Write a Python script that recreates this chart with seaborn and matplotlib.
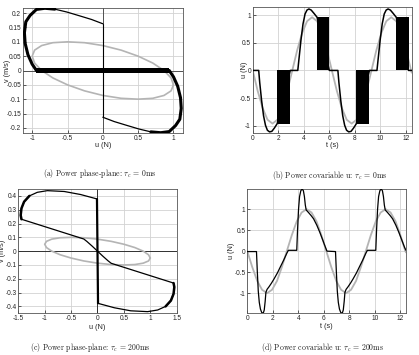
import matplotlib
matplotlib.use("Agg")
import matplotlib.pyplot as plt
import seaborn as sns

# ---------------- data ----------------
# reference ellipse (grey) used in the phase planes
ref_u = [1, 0.966, 0.866, 0.707, 0.5, 0.259, 0, -0.259, -0.5, -0.707, -0.866, -0.966, -1,
         -0.966, -0.866, -0.707, -0.5, -0.259, 0, 0.259, 0.5, 0.707, 0.866, 0.966, 1]
ref_v = [-0.05, -0.026, 0, 0.026, 0.05, 0.071, 0.087, 0.097, 0.1, 0.097, 0.087, 0.071, 0.05,
         0.026, 0, -0.026, -0.05, -0.071, -0.087, -0.097, -0.1, -0.097, -0.087, -0.071, -0.05]

# (a) phase plane, tau_c = 0 ms
a_arc1_u = [0, -0.16, -0.32, -0.51, -0.68]
a_arc1_v = [0.163, 0.178, 0.190, 0.204, 0.214]
a_edge1_u = [-0.68, -0.82, -0.94, -1.03, -1.09, -1.11, -1.10, -1.06, -1.00, -0.94]
a_edge1_v = [0.214, 0.217, 0.213, 0.192, 0.170, 0.132, 0.095, 0.055, 0.022, 0.0]
a_arc2_u = [0, 0.16, 0.32, 0.51, 0.68]
a_arc2_v = [-0.163, -0.178, -0.190, -0.204, -0.214]
a_edge2_u = [0.68, 0.82, 0.94, 1.03, 1.09, 1.11, 1.10, 1.06, 1.00, 0.94]
a_edge2_v = [-0.214, -0.217, -0.213, -0.192, -0.170, -0.132, -0.095, -0.055, -0.022, 0.0]
a_band_u = [-0.94, 0.94]
a_band_lo = [-0.009, -0.009]
a_band_hi = [0.010, 0.010]
a_switch_u = [0, 0]
a_switch_v = [0.163, -0.163]

# (b) u(t), tau_c = 0 ms
b_t = [0, 0.47, 0.55, 0.70, 0.85, 1.00, 1.15, 1.32, 1.50, 1.70, 1.92, 2.94, 3.53, 3.62, 3.78,
       3.94, 4.10, 4.25, 4.40, 4.58, 4.80, 5.04, 6.00, 6.67, 6.75, 6.90, 7.05, 7.20, 7.35, 7.52,
       7.70, 7.90, 8.12, 9.14, 9.73, 9.82, 9.98, 10.14, 10.30, 10.45, 10.60, 10.78, 11.00,
       11.24, 12.20, 12.45]
b_u = [0, 0, -0.22, -0.55, -0.82, -0.99, -1.08, -1.11, -1.10, -1.04, -0.96, 0, 0, 0.20, 0.55,
       0.84, 1.02, 1.09, 1.11, 1.09, 1.03, 0.96, 0, 0, -0.22, -0.55, -0.82, -0.99, -1.08, -1.11,
       -1.10, -1.04, -0.96, 0, 0, 0.20, 0.55, 0.84, 1.02, 1.09, 1.11, 1.09, 1.03,
       0.96, 0, 0]
b_block_start = [1.92, 5.04, 8.12, 11.24]
b_block_end = [2.94, 6.00, 9.14, 12.20]
b_block_level = [-0.96, 0.96, -0.96, 0.96]
b_ref_t = [0, 0.39, 0.78, 1.16, 1.55, 1.94, 2.33, 2.71, 3.10, 3.49, 3.88, 4.26, 4.65, 5.04,
           5.43, 5.81, 6.20, 6.59, 6.98, 7.36, 7.75, 8.14, 8.53, 8.91, 9.30, 9.69, 10.08,
           10.46, 10.85, 11.24, 11.63, 12.01, 12.40, 12.45]
b_ref_u = [0, -0.37, -0.68, -0.89, -0.96, -0.89, -0.68, -0.37, 0, 0.37, 0.68, 0.89, 0.96, 0.89,
           0.68, 0.37, 0, -0.37, -0.68, -0.89, -0.96, -0.89, -0.68, -0.37, 0, 0.37, 0.68,
           0.89, 0.96, 0.89, 0.68, 0.37, 0, -0.04]

# (c) phase plane, tau_c = 200 ms
c_up_u = [0, -0.32, -0.63, -0.95, -1.14, -1.29, -1.39, -1.44, -1.455, -1.44, -0.26, -0.20, -0.10, 0]
c_up_v = [0.377, 0.41, 0.432, 0.438, 0.426, 0.40, 0.358, 0.31, 0.26, 0.231, 0.088, 0.07, 0.036, 0]
c_dn_u = [0, 0.32, 0.63, 0.95, 1.14, 1.29, 1.39, 1.44, 1.455, 1.44, 0.26, 0.20, 0.10, 0]
c_dn_v = [-0.377, -0.41, -0.432, -0.438, -0.426, -0.40, -0.358, -0.31, -0.26, -0.231, -0.088,
          -0.07, -0.036, 0]
c_edge1_u = [-1.29, -1.39, -1.44, -1.455, -1.44]
c_edge1_v = [0.40, 0.358, 0.31, 0.26, 0.231]
c_edge2_u = [1.29, 1.39, 1.44, 1.455, 1.44]
c_edge2_v = [-0.40, -0.358, -0.31, -0.26, -0.231]
c_switch_u = [-0.01, 0.01]
c_switch_v = [0.377, -0.377]

# (d) u(t), tau_c = 200 ms
d_t = [0, 0.72, 0.78, 0.86, 0.94, 1.03, 1.13, 1.25, 1.33, 1.40, 1.46, 1.55, 1.70, 1.90, 2.10,
       2.36, 2.60, 2.86, 3.10, 3.22, 3.88, 3.94, 4.02, 4.10, 4.20, 4.30, 4.40, 4.48, 4.55, 4.62,
       4.80, 5.00, 5.20, 5.45, 5.70, 5.95, 6.12, 6.25, 6.92, 6.98, 7.06, 7.14, 7.23, 7.33, 7.45,
       7.53, 7.60, 7.66, 7.75, 7.90, 8.10, 8.30, 8.56, 8.80, 9.06, 9.30, 9.42, 10.08, 10.14,
       10.22, 10.30, 10.40, 10.50, 10.60, 10.68, 10.75, 10.82, 11.00, 11.20, 11.40, 11.65,
       11.90, 12.15, 12.35, 12.45]
d_u = [-0.01, -0.01, -0.45, -0.95, -1.22, -1.38, -1.46, -1.48, -1.40, -1.20, -0.98, -0.91,
       -0.85, -0.76, -0.66, -0.52, -0.37, -0.21, -0.05, 0.02, 0.02, 0.50, 1.00, 1.30, 1.44,
       1.48, 1.44, 1.30, 1.10, 0.98, 0.92, 0.85, 0.77, 0.62, 0.44, 0.24, 0.10, 0.0, -0.01,
       -0.45, -0.95, -1.22, -1.38, -1.46, -1.48, -1.40, -1.20, -0.98, -0.91, -0.85, -0.76,
       -0.66, -0.52, -0.37, -0.21, -0.05, 0.02, 0.02, 0.50, 1.00, 1.30, 1.44, 1.48, 1.44,
       1.30, 1.10, 0.98, 0.92, 0.85, 0.77, 0.62, 0.44, 0.24, 0.08, 0.02]
d_ref_t = b_ref_t
d_ref_u = [0, -0.38, -0.71, -0.92, -1.0, -0.92, -0.71, -0.38, 0, 0.38, 0.71, 0.92, 1.0, 0.92,
           0.71, 0.38, 0, -0.38, -0.71, -0.92, -1.0, -0.92, -0.71, -0.38, 0, 0.38, 0.71,
           0.92, 1.0, 0.92, 0.71, 0.38, 0, -0.03]

captions = ["(a) Power phase-plane: $\\tau_c$ = 0ms",
            "(b) Power covariable u: $\\tau_c$ = 0ms",
            "(c) Power phase-plane: $\\tau_c$ = 200ms",
            "(d) Power covariable u: $\\tau_c$ = 200ms"]

# ---------------- drawing ----------------
sns.set_style("whitegrid")
plt.rcParams["font.family"] = ["Liberation Sans", "DejaVu Sans"]
plt.rcParams["mathtext.fontset"] = "cm"

W, H = 419, 355
fig = plt.figure(figsize=(W / 100, H / 100), dpi=100)


def box(l, r, t, b):
    return [l / W, 1 - b / H, (r - l) / W, (b - t) / H]


axA = fig.add_axes(box(23, 183, 8, 133))
axB = fig.add_axes(box(252.7, 411.7, 7.3, 133))
axC = fig.add_axes(box(18.3, 176.7, 189, 313.3))
axD = fig.add_axes(box(247.3, 406, 189, 313.3))

GREY = "#b4b4b4"
BLK = "black"


def line(ax, x, y, color=BLK, lw=0.8, z=3):
    sns.lineplot(x=x, y=y, ax=ax, color=color, linewidth=lw, sort=False,
                 estimator=None, legend=False, zorder=z)


def style(ax, xlim, ylim, xt, xtl, yt, ytl, xlabel, ylabel, xlc, ylc):
    ax.set_xlim(*xlim)
    ax.set_ylim(*ylim)
    ax.set_xticks(xt)
    ax.set_xticklabels(xtl)
    ax.set_yticks(yt)
    ax.set_yticklabels(ytl)
    ax.set_facecolor("white")
    ax.grid(True, color="#d2d2d2", linewidth=0.6)
    ax.set_axisbelow(True)
    for s in ax.spines.values():
        s.set_visible(True)
        s.set_color("#555555")
        s.set_linewidth(0.6)
    ax.tick_params(direction="in", length=2, width=0.5, labelsize=4.7, pad=1.3,
                   colors="#222222", left=True, bottom=True)
    ax.set_xlabel(xlabel, fontsize=5.2, color="#222222")
    ax.set_ylabel(ylabel, fontsize=5.2, color="#222222")
    ax.xaxis.label.set_va("center")
    ax.yaxis.label.set_va("center")
    ax.xaxis.set_label_coords(0.5, xlc)
    ax.yaxis.set_label_coords(ylc, 0.5)


# (a)
axA.axhline(0, color="#505050", lw=0.7, zorder=1.5)
axA.axvline(0, color="#505050", lw=0.7, zorder=1.5)
line(axA, ref_u, ref_v, GREY, 1.2, 2)
axA.fill_between(a_band_u, a_band_lo, a_band_hi, color=BLK, lw=0, zorder=3)
line(axA, a_switch_u, a_switch_v, BLK, 0.8)
line(axA, a_arc1_u, a_arc1_v, BLK, 0.9)
line(axA, a_arc2_u, a_arc2_v, BLK, 0.9)
line(axA, a_edge1_u, a_edge1_v, BLK, 2.2)
line(axA, a_edge2_u, a_edge2_v, BLK, 2.2)
style(axA, (-1.13, 1.135), (-0.218, 0.218),
      [-1, -0.5, 0, 0.5, 1], ["-1", "-0.5", "0", "0.5", "1"],
      [-0.2, -0.15, -0.1, -0.05, 0, 0.05, 0.1, 0.15, 0.2],
      ["-0.2", "-0.15", "-0.1", "-0.05", "0", "0.05", "0.1", "0.15", "0.2"],
      "u (N)", "v (m/s)", -0.10, -0.098)

# (b)
line(axB, b_ref_t, b_ref_u, GREY, 1.3, 2)
for s, e, lv in zip(b_block_start, b_block_end, b_block_level):
    axB.fill_between([s, e], [0, 0], [lv, lv], color=BLK, lw=0, zorder=3)
line(axB, b_t, b_u, BLK, 1.1)
style(axB, (0, 12.45), (-1.13, 1.14),
      [0, 2, 4, 6, 8, 10, 12], ["0", "2", "4", "6", "8", "10", "12"],
      [-1, -0.5, 0, 0.5, 1], ["-1", "-0.5", "0", "0.5", "1"],
      "t (s)", "u (N)", -0.10, -0.05)

# (c)
axC.axhline(0, color="#303030", lw=0.7, zorder=1.5)
axC.axvline(0, color="#303030", lw=0.7, zorder=1.5)
line(axC, ref_u, ref_v, GREY, 1.2, 2)
line(axC, c_up_u, c_up_v, BLK, 0.9)
line(axC, c_dn_u, c_dn_v, BLK, 0.9)
line(axC, c_edge1_u, c_edge1_v, BLK, 1.8)
line(axC, c_edge2_u, c_edge2_v, BLK, 1.8)
line(axC, c_switch_u, c_switch_v, BLK, 1.6)
style(axC, (-1.5, 1.5), (-0.45, 0.45),
      [-1.5, -1, -0.5, 0, 0.5, 1, 1.5], ["-1.5", "-1", "-0.5", "0", "0.5", "1", "1.5"],
      [-0.4, -0.3, -0.2, -0.1, 0, 0.1, 0.2, 0.3, 0.4],
      ["-0.4", "-0.3", "-0.2", "-0.1", "0", "0.1", "0.2", "0.3", "0.4"],
      "u (N)", "v (m/s)", -0.116, -0.10)

# (d)
line(axD, d_ref_t, d_ref_u, GREY, 1.3, 2)
line(axD, d_t, d_u, BLK, 0.9)
style(axD, (0, 12.45), (-1.48, 1.48),
      [0, 2, 4, 6, 8, 10, 12], ["0", "2", "4", "6", "8", "10", "12"],
      [-1, -0.5, 0, 0.5, 1], ["-1", "-0.5", "0", "0.5", "1"],
      "t (s)", "u (N)", -0.108, -0.098)

cap_pos = [(100, 174), (330, 175.5), (90.5, 347.3), (323, 347.3)]
for txt, (cx, cy) in zip(captions, cap_pos):
    fig.text(cx / W, 1 - cy / H, txt, ha="center", va="center", fontsize=5.6,
             family=["cmr10", "DejaVu Serif"], color="#222222")

fig.savefig("out.png", dpi=100, facecolor="white")
